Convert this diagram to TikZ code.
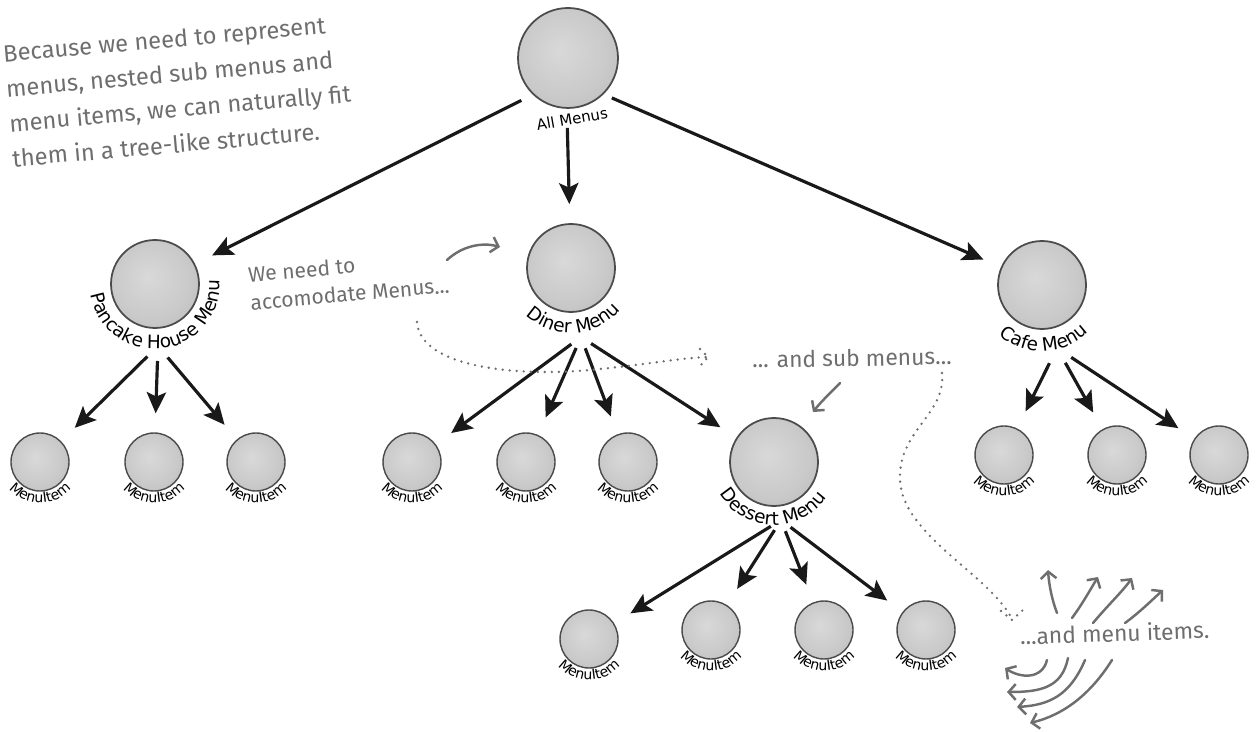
\documentclass[tikz,border=0pt]{standalone}
\usepackage{fontspec}
\setmainfont{Fira Sans}
\newfontfamily\labelfam{DejaVu Sans}
\usetikzlibrary{arrows.meta,decorations.text}
\definecolor{cInk}{RGB}{25,25,25}
\definecolor{cNote}{RGB}{110,110,110}
\definecolor{cRim}{RGB}{75,75,75}
\pgfdeclareradialshading{sphere}{\pgfpoint{-4bp}{4bp}}{%
  color(0bp)=(black!15); color(22bp)=(black!21); color(38bp)=(black!28);
  color(46bp)=(black!40); color(50bp)=(black!65)}
\newcommand\menufont{\labelfam\fontsize{10.5}{12}\selectfont}
\newcommand\itemfont{\labelfam\fontsize{8}{9}\selectfont}
\tikzset{
  menu/.style={
    circle, draw=cRim, line width=1pt, shade, shading=sphere,
    inner sep=0pt, minimum size=1.76cm,
  },
  rootmenu/.style={menu, minimum size=2cm},
  leaf/.style={menu, line width=0.8pt, minimum size=1.16cm},
  arr/.style={-{Stealth[length=12pt, width=11pt, inset=2.5pt]}, line width=1.8pt,
    draw=cInk, shorten >=0.38cm},
  note/.style={text=cNote, font=\fontsize{13.5}{20}\selectfont, align=left, inner sep=0pt},
  hint/.style={-{Straight Barb[length=4pt, width=9pt]}, line width=1.4pt,
    draw=cNote, line cap=round},
  dotline/.style={draw=cNote, line width=1.5pt, line cap=round, dash pattern=on 0pt off 4pt},
  menulbl/.style={decorate, decoration={text along path, text align=center,
    text={|\menufont|#1}}},
  leaflbl/.style={decorate, decoration={text along path, text align=center,
    text={|\itemfont|#1}}},
}

\begin{document}
\begin{tikzpicture}[x=0.02cm, y=0.02cm]
\useasboundingbox (0,0) rectangle (1256,-732);

% menus
\node[rootmenu] (all) at (568,-58) {};
\node[menu] (pancake) at (155,-284) {};
\node[menu] (diner) at (571,-268) {};
\node[menu] (cafe) at (1042,-285) {};
\node[menu] (dessert) at (774,-462) {};

% menu items
\node[leaf] (p1) at (40,-462) {};
\node[leaf] (p2) at (154,-462) {};
\node[leaf] (p3) at (256,-462) {};
\node[leaf] (d1) at (412,-462) {};
\node[leaf] (d2) at (526,-462) {};
\node[leaf] (d3) at (628,-462) {};
\node[leaf] (c1) at (1004,-455) {};
\node[leaf] (c2) at (1117,-455) {};
\node[leaf] (c3) at (1219,-455) {};
\node[leaf] (s1) at (589,-639) {};
\node[leaf] (s2) at (711,-630) {};
\node[leaf] (s3) at (824,-630) {};
\node[leaf] (s4) at (926,-630) {};

% labels round the balls
\node[rotate=10, font=\labelfam\fontsize{8.5}{10}\selectfont] (allLbl) at (572,-119) {All Menus};
\path[menulbl=Pancake House Menu] (pancake) ++(165:65) arc[start angle=165, end angle=388, radius=65];
\path[menulbl=Diner Menu] (diner) ++(183:65) arc[start angle=183, end angle=363, radius=65];
\path[menulbl=Cafe Menu] (cafe) ++(182:66) arc[start angle=182, end angle=362, radius=66];
\path[menulbl=Dessert Menu] (dessert) ++(178:63) arc[start angle=178, end angle=358, radius=63];
\foreach \n in {p1,p2,p3,d1,d2,d3,c1,c2,c3,s1,s2,s3,s4}
  \path[leaflbl=MenuItem] (\n) ++(180:41) arc[start angle=180, end angle=360, radius=41];

% where the arrows leave each menu
\coordinate (allHub) at (566,-78);
\coordinate (pancakeHub) at (158,-346);
\coordinate (dinerHub) at (581,-337);
\coordinate (dessertHub) at (781,-520);
\coordinate (cafeHub) at (1057,-348);

\foreach \c in {pancake,diner,cafe}
  \draw[arr, shorten <=1cm] (allHub) -- (\c);
\foreach \c in {p1,p2,p3}
  \draw[arr, shorten <=0.3cm] (pancakeHub) -- (\c);
\foreach \c in {d1,d2,d3,dessert}
  \draw[arr, shorten <=0.24cm] (dinerHub) -- (\c);
\foreach \c in {s1,s2,s3,s4}
  \draw[arr, shorten <=0.24cm] (dessertHub) -- (\c);
\foreach \c in {c1,c2,c3}
  \draw[arr, shorten <=0.34cm] (cafeHub) -- (\c);

% notes
\node[note, rotate=5, anchor=north west] (why) at (2,-44)
  {Because we need to represent\\menus, nested sub menus and\\
   menu items, we can naturally fit\\them in a tree-like structure.};
\node[note, rotate=5, anchor=north west, font=\fontsize{12}{16}\selectfont] (need) at (247,-266)
  {We need to\\accomodate Menus...};
\node[note, rotate=1, anchor=base west, font=\fontsize{13}{17}\selectfont] (sub) at (752,-368)
  {... and sub menus...};
\node[note, rotate=2, anchor=base west, font=\fontsize{13}{17}\selectfont] (items) at (1020,-645)
  {...and menu items.};

\draw[hint] (447,-260) .. controls (462,-246) and (482,-242) .. (500,-247);
\draw[hint] (840,-383) .. controls (828,-395) and (820,-403) .. (813,-412);

\draw[dotline] (417,-322) .. controls (420,-368) and (520,-378) .. (600,-369)
  .. controls (650,-364) and (680,-358) .. (708,-357);
\draw[dotline] (700,-349) -- (708,-357) -- (700,-366);
\draw[dotline] (942,-373) .. controls (946,-415) and (898,-430) .. (900,-480)
  .. controls (902,-535) and (990,-575) .. (1012,-619);
\draw[dotline] (1001,-611) -- (1012,-620) -- (1024,-609);

\draw[hint] (1057,-613) .. controls (1052,-600) and (1049,-585) .. (1048,-570);
\draw[hint] (1072,-618) .. controls (1083,-603) and (1090,-590) .. (1098,-577);
\draw[hint] (1093,-623) .. controls (1108,-605) and (1122,-592) .. (1132,-578);
\draw[hint] (1125,-623) .. controls (1140,-612) and (1152,-600) .. (1163,-590);
\draw[hint] (1047,-660) .. controls (1042,-680) and (1020,-678) .. (1005,-668);
\draw[hint] (1068,-658) .. controls (1062,-688) and (1040,-692) .. (1007,-692);
\draw[hint] (1085,-660) .. controls (1070,-695) and (1050,-705) .. (1017,-707);
\draw[hint] (1112,-660) .. controls (1090,-695) and (1063,-715) .. (1030,-723);

\end{tikzpicture}
\end{document}
